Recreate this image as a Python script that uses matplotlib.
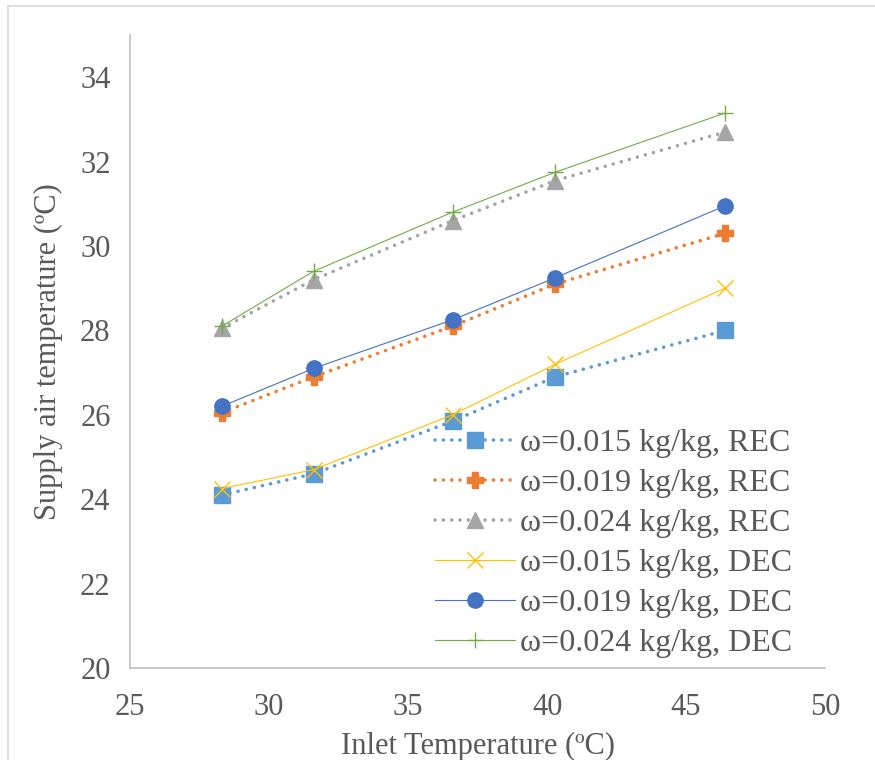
import matplotlib.pyplot as plt
from matplotlib.lines import Line2D

plt.rcParams['font.family'] = ['Liberation Serif', 'DejaVu Serif']

# Data
inlet_t = [28.3, 31.6, 36.6, 40.3, 46.4]
rec_015 = [24.1, 24.6, 25.85, 26.9, 28.0]
rec_019 = [26.05, 26.9, 28.1, 29.1, 30.3]
rec_024 = [28.05, 29.2, 30.6, 31.55, 32.7]
dec_015 = [24.25, 24.7, 26.0, 27.2, 29.0]
dec_019 = [26.2, 27.1, 28.25, 29.25, 30.95]
dec_024 = [28.1, 29.4, 30.8, 31.75, 33.15]

labels = ['ω=0.015 kg/kg, REC', 'ω=0.019 kg/kg, REC', 'ω=0.024 kg/kg, REC',
          'ω=0.015 kg/kg, DEC', 'ω=0.019 kg/kg, DEC', 'ω=0.024 kg/kg, DEC']

text_c = '#595959'
dots = (0, (0.01, 2.3))
fig = plt.figure(figsize=(8.75, 7.6), dpi=100)
ax = fig.add_axes([0.1486, 0.121, 0.7944, 0.833])

# REC: thick dotted lines
ax.plot(inlet_t, rec_015, color='#5B9BD5', lw=2.6, ls=dots, dash_capstyle='round',
        marker='s', ms=11, label=labels[0])
ax.plot(inlet_t, rec_019, color='#ED7D31', lw=2.6, ls=dots, dash_capstyle='round',
        marker='P', ms=11, label=labels[1])
ax.plot(inlet_t, rec_024, color='#A5A5A5', lw=2.6, ls=dots, dash_capstyle='round',
        marker='^', ms=11, label=labels[2])
# DEC: thin solid lines
ax.plot(inlet_t, dec_015, color='#FFC000', lw=0.8, marker='x', ms=11, mew=1.0, label=labels[3])
ax.plot(inlet_t, dec_019, color='#4472C4', lw=0.8, marker='o', ms=11, label=labels[4])
ax.plot(inlet_t, dec_024, color='#70AD47', lw=0.8, marker='+', ms=11, mew=1.0, label=labels[5])

ax.set_xlim(25, 50)
ax.set_ylim(20, 35)
ax.set_xticks([25, 30, 35, 40, 45, 50])
ax.set_yticks([20, 22, 24, 26, 28, 30, 32, 34])
ax.tick_params(axis='y', length=0, labelsize=22, colors=text_c, pad=14)
ax.tick_params(axis='x', length=0, labelsize=22, colors=text_c, pad=18)
for s in ['top', 'right']:
    ax.spines[s].set_visible(False)
for s in ['left', 'bottom']:
    ax.spines[s].set_color('#BFBFBF')
    ax.spines[s].set_linewidth(1.2)

ax.set_xlabel('Inlet Temperature (ºC)', fontsize=22, color=text_c, labelpad=7)
ax.set_ylabel('Supply air temperature (ºC)', fontsize=22, color=text_c, labelpad=12)

ax.legend(loc='lower right', bbox_to_anchor=(0.985, -0.019), frameon=False, fontsize=23,
          labelcolor=text_c, handlelength=2.5, handletextpad=0.15, labelspacing=0.33,
          borderaxespad=0.3)

# chart frame
fig.add_artist(Line2D([8 / 875, 8 / 875], [0, 1 - 6 / 760], transform=fig.transFigure,
                      color='#D9D9D9', lw=1.2))
fig.add_artist(Line2D([8 / 875, 1], [1 - 6 / 760, 1 - 6 / 760], transform=fig.transFigure,
                      color='#D9D9D9', lw=1.2))

fig.savefig('out.png', dpi=100)
